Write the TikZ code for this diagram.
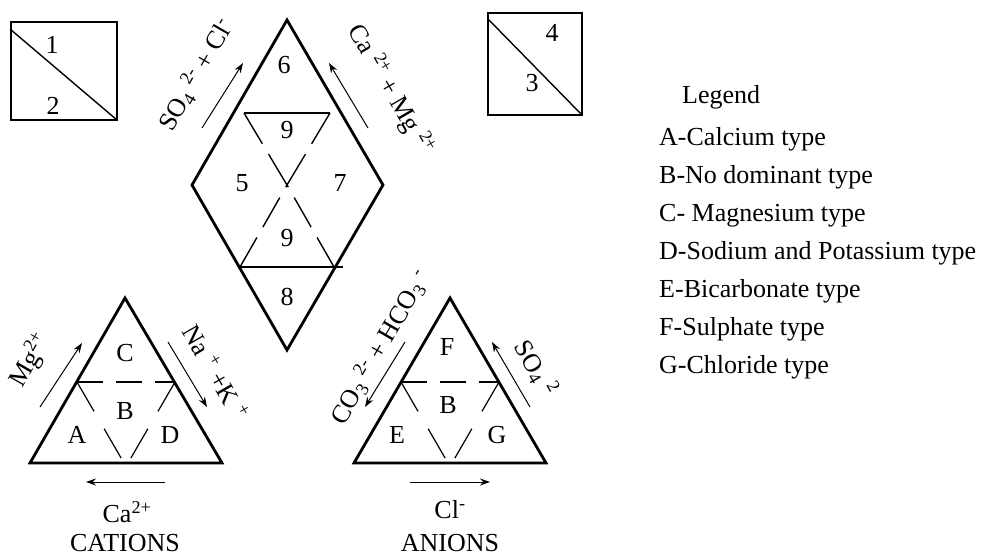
\documentclass[tikz,border=0pt]{standalone}
\usepackage{fontspec}
\setmainfont{Liberation Serif}
\usetikzlibrary{arrows.meta}

\begin{document}
\begin{tikzpicture}[x=1pt, y=-1pt,
  every node/.style={font=\fontsize{26}{30}\selectfont, inner sep=0pt},
  rim/.style={line width=2.8pt},
  split/.style={line width=1.4pt},
  brk/.style={line width=1.2pt, dash pattern=on 34pt off 20pt},
  flow/.style={line width=1pt, -{Stealth[length=10pt,width=7pt]}}]

\useasboundingbox (0,0) rectangle (982,557);

% corner boxes
\draw[line width=2pt] (11,22) rectangle (117,120);
\draw[line width=1.4pt] (10,29) -- (117,120);
\node (n1) at (52,45) {1};
\node (n2) at (53,106) {2};
\draw[line width=2pt] (488,13) rectangle (582,115);
\draw[line width=1.4pt] (488,19) -- (582,115);
\node (n4) at (552,33) {4};
\node (n3) at (532,83) {3};

% diamond
\coordinate (dt) at (287,20);
\coordinate (dl) at (192,185);
\coordinate (dr) at (383,185);
\coordinate (db) at (287,350);
\coordinate (dc) at (287,185);
\draw[rim] (dt) -- (dr) -- (db) -- (dl) -- cycle;
\draw[split] (244,113) -- (330,113);
\draw[split] (240,267) -- (343,267);
\draw[split, dash pattern=on 36pt off 12pt] (dc) -- (244,113);
\draw[split, dash pattern=on 36pt off 12pt] (dc) -- (330,113);
\draw[split, dash pattern=on 34pt off 12pt] (240,267) -- (dc);
\draw[split, dash pattern=on 34pt off 12pt] (334,267) -- (dc);
\node (n6) at (284,65) {6};
\node (n9a) at (287,130) {9};
\node (n5) at (242,183) {5};
\node (n7) at (340,183) {7};
\node (n9b) at (287,238) {9};
\node (n8) at (287,297) {8};
\draw[flow] (202,128) -- (243,63);
\draw[flow] (368,128) -- (329,63);
\node[rotate=60] (lso) at (196,75) {SO\textsubscript{4} \textsuperscript{2-} + Cl\textsuperscript{-}};
\node[rotate=-60] (lca) at (391,90) {Ca \textsuperscript{2+} + Mg \textsuperscript{2+}};

% cations
\coordinate (ct) at (125,298);
\coordinate (cl) at (30,463);
\coordinate (cr) at (222,463);
\draw[rim] (ct) -- (cr) -- (cl) -- cycle;
\draw[split, dash pattern=on 26pt off 13pt] (77,382) -- (175,382);
\draw[brk] (77,382) -- (124,463);
\draw[brk] (175,382) -- (128,463);
\node (nC) at (125,353) {C};
\node (nB1) at (125,411) {B};
\node (nA) at (77,435) {A};
\node (nD) at (170,435) {D};
\draw[flow] (40,407) -- (82,343);
\draw[flow] (168,342) -- (207,407);
\draw[flow] (165,482) -- (86,482);
\node[rotate=60] (lmg) at (30,360) {Mg\textsuperscript{2+}};
\node[rotate=-60] (lna) at (216,372) {Na \textsuperscript{+} +K \textsuperscript{+}};
\node (lcat) at (127,512) {Ca\textsuperscript{2+}};
\node (cat) at (125,543) {CATIONS};

% anions
\coordinate (at) at (450,298);
\coordinate (al) at (354,463);
\coordinate (ar) at (546,463);
\draw[rim] (at) -- (ar) -- (al) -- cycle;
\draw[split, dash pattern=on 26pt off 13pt] (401,382) -- (499,382);
\draw[brk] (401,382) -- (448,463);
\draw[brk] (499,382) -- (452,463);
\node (nF) at (447,347) {F};
\node (nB2) at (448,405) {B};
\node (nE) at (397,435) {E};
\node (nG) at (497,435) {G};
\draw[flow] (405,342) -- (365,407);
\draw[flow] (530,407) -- (492,342);
\draw[flow] (410,482) -- (490,482);
\node[rotate=60] (lco) at (380,347) {CO\textsubscript{3} \textsuperscript{2-} + HCO\textsubscript{3} \textsuperscript{-}};
\node[rotate=-60] (lsf) at (536,368) {SO\textsubscript{4} \textsuperscript{2}};
\node (lcl) at (450,510) {Cl\textsuperscript{-}};
\node (an) at (450,543) {ANIONS};

% legend
\node[anchor=base west] (leg) at (682,103) {Legend};
\foreach \txt [count=\i] in {A-Calcium type, B-No dominant type, C- Magnesium type,
    D-Sodium and Potassium type, E-Bicarbonate type, F-Sulphate type, G-Chloride type}
  \node[anchor=base west] (l\i) at (659,107+38*\i) {\txt};

\end{tikzpicture}
\end{document}
